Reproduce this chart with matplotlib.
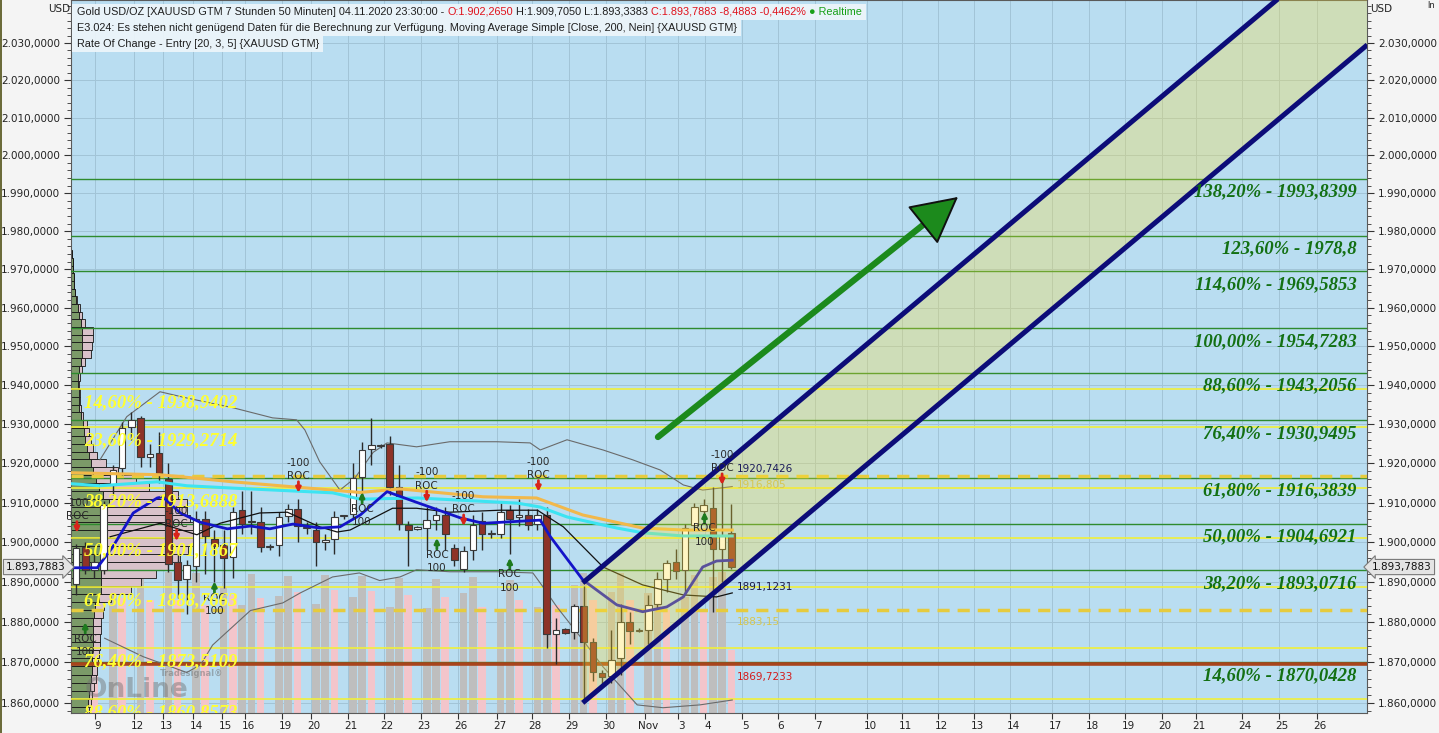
import numpy as np
import matplotlib
matplotlib.use("Agg")
import matplotlib.pyplot as plt
from matplotlib.ticker import FixedLocator, FuncFormatter, NullFormatter
from matplotlib.transforms import blended_transform_factory, ScaledTranslation
from matplotlib.patches import Rectangle

# ---------------- data ----------------
# 7h50m candles, index 0 = first visible bar (9. Okt)
opens = [1889.5, 1898.7, 1893.0, 1893.0, 1914.5, 1918.7, 1929.2, 1931.5, 1921.6, 1922.5,
         1916.0, 1895.0, 1890.7, 1894.0, 1906.0, 1900.8, 1899.2, 1896.3, 1908.2, 1905.0,
         1905.2, 1898.8, 1899.2, 1906.7, 1908.4, 1903.5, 1903.0, 1900.1, 1900.8, 1906.6,
         1907.1, 1916.5, 1923.7, 1924.3, 1925.0, 1914.0, 1904.3, 1903.4, 1903.5, 1905.6,
         1907.0, 1898.5, 1893.2, 1898.0, 1905.5, 1902.0, 1902.0, 1908.2, 1906.3, 1907.0,
         1904.6, 1907.0, 1877.0, 1878.2, 1877.5, 1884.0, 1875.0, 1867.3, 1866.6, 1871.0,
         1880.0, 1877.8, 1878.0, 1884.5, 1890.7, 1895.0, 1893.0, 1904.3, 1908.0, 1908.7,
         1898.3, 1902.265]
highs = [1899.5, 1900.0, 1897.0, 1910.5, 1919.5, 1930.5, 1933.0, 1932.0, 1925.0, 1928.0,
         1920.0, 1898.0, 1895.5, 1908.0, 1908.0, 1903.0, 1903.0, 1909.0, 1913.0, 1913.0,
         1909.0, 1899.5, 1907.6, 1909.8, 1911.0, 1905.0, 1905.0, 1902.0, 1908.0, 1907.0,
         1920.0, 1925.5, 1931.6, 1925.0, 1927.0, 1919.5, 1905.5, 1904.0, 1909.0, 1909.0,
         1909.0, 1899.5, 1899.0, 1907.0, 1907.6, 1903.0, 1910.0, 1909.5, 1911.0, 1908.5,
         1908.5, 1909.0, 1881.0, 1878.5, 1884.5, 1889.0, 1876.0, 1868.0, 1878.0, 1884.5,
         1882.5, 1878.5, 1886.8, 1892.5, 1895.6, 1898.2, 1904.5, 1910.0, 1911.0, 1914.0,
         1917.0, 1909.705]
lows = [1886.7, 1892.0, 1891.0, 1892.0, 1912.0, 1917.0, 1926.0, 1919.0, 1919.0, 1915.0,
        1892.5, 1886.0, 1882.0, 1890.0, 1892.0, 1890.0, 1888.5, 1891.0, 1902.0, 1902.0,
        1897.5, 1898.0, 1896.5, 1905.0, 1900.0, 1902.0, 1894.0, 1898.0, 1897.0, 1906.0,
        1906.0, 1912.0, 1919.5, 1924.0, 1912.0, 1903.0, 1894.0, 1903.0, 1898.0, 1903.0,
        1898.0, 1894.0, 1892.5, 1895.6, 1898.0, 1901.0, 1901.0, 1897.0, 1904.0, 1903.0,
        1903.0, 1873.5, 1869.5, 1877.0, 1875.7, 1860.7, 1865.3, 1864.5, 1864.8, 1867.0,
        1874.5, 1877.5, 1874.5, 1883.3, 1887.5, 1890.7, 1886.8, 1903.0, 1906.0, 1882.5,
        1890.0, 1893.338]
closes = [1898.6, 1893.0, 1895.0, 1909.5, 1918.3, 1929.0, 1931.0, 1921.5, 1922.4, 1917.6,
          1894.5, 1890.5, 1894.2, 1906.0, 1901.5, 1899.0, 1896.0, 1907.6, 1904.6, 1905.1,
          1898.7, 1898.9, 1906.4, 1908.4, 1904.0, 1903.8, 1900.0, 1900.6, 1906.4, 1906.8,
          1916.3, 1923.5, 1924.7, 1924.4, 1914.0, 1904.5, 1903.2, 1903.6, 1905.6, 1907.0,
          1902.0, 1895.6, 1897.7, 1904.3, 1902.0, 1902.2, 1907.6, 1906.0, 1907.0, 1904.3,
          1907.0, 1877.0, 1878.0, 1877.4, 1884.0, 1875.0, 1867.5, 1866.3, 1870.7, 1880.0,
          1877.8, 1878.0, 1884.2, 1890.7, 1894.7, 1892.8, 1903.7, 1908.8, 1909.5, 1898.3,
          1901.5, 1893.788]
volume = [135, 123, 113, 0, 140, 115, 0, 138, 113, 0, 141, 113, 0, 140, 108, 0, 126, 118,
          108, 139, 115, 0, 117, 137, 121, 0, 109, 138, 123, 0, 116, 137, 122, 0, 106, 135,
          118, 0, 105, 134, 116, 0, 120, 136, 106, 0, 103, 133, 113, 0, 106, 141, 108, 0,
          128, 140, 113, 0, 121, 140, 113, 0, 120, 131, 103, 0, 116, 138, 103, 136, 141, 63]
pink_bars = [2, 5, 8, 11, 14, 17, 20, 24, 28, 32, 36, 40, 44, 48, 52, 56, 60, 64, 68, 71]
VOL_MAX = 713

# volume profile (left edge), 2 USD rows
profile_levels = list(range(1858, 1976, 2))
profile_buy = [16, 17, 18, 19, 20, 21, 21, 21, 22, 22, 22, 22, 23, 24, 28, 30, 30, 30, 32, 34,
               35, 36, 36, 34, 34, 36, 38, 32, 28, 25, 22, 20, 18, 16, 14, 13, 12, 10, 8, 8,
               8, 7, 7, 8, 10, 11, 11, 11, 11, 10, 8, 7, 5, 4, 3, 3, 2, 2, 1]
profile_sell = [2, 3, 3, 4, 5, 5, 6, 7, 7, 7, 8, 8, 9, 9, 12, 30, 40, 55, 65, 75,
                82, 88, 95, 90, 85, 80, 78, 75, 50, 40, 25, 15, 8, 6, 6, 5, 4, 2, 2, 1,
                1, 1, 2, 3, 4, 9, 10, 11, 11, 4, 3, 2, 1, 0, 0, 0, 0, 0, 0]
PROF_MAX = 1296

# indicator lines (bar index, price)
cyan_x = [-0.4, 2.6, 8.8, 12.0, 17.0, 27.8, 30.8, 37.0, 47.8, 50.3, 53.2, 58.6, 61.4, 65.8, 71.1]
cyan_y = [1914.8, 1914.3, 1915.3, 1914.3, 1913.7, 1912.5, 1910.9, 1911.2, 1909.9, 1908.9,
          1906.4, 1903.6, 1902.4, 1901.6, 1901.6]
gold_x = [-0.4, 9.1, 17.0, 30.8, 35.1, 44.1, 49.9, 54.9, 61.4, 65.8, 71.1]
gold_y = [1917.6, 1917.1, 1915.3, 1912.6, 1913.5, 1911.5, 1911.2, 1906.9, 1903.6, 1903.1, 1903.1]
blue_x = [-0.4, 2.3, 4.0, 6.2, 8.8, 9.4, 11.3, 13.4, 16.4, 18.9, 21.0, 23.5, 26.4, 28.6, 30.8,
          33.7, 36.9, 41.6, 44.1, 50.3, 51.4, 54.9, 58.6, 61.4, 64.0, 65.8, 67.9, 69.4, 71.1]
blue_y = [1893.6, 1893.6, 1898.9, 1907.4, 1911.2, 1911.5, 1907.4, 1905.1, 1903.4, 1904.1,
          1903.4, 1904.6, 1903.6, 1903.9, 1906.9, 1912.8, 1910.1, 1906.2, 1904.8, 1905.6,
          1901.4, 1890.6, 1884.3, 1882.6, 1883.8, 1886.3, 1893.8, 1895.3, 1895.5]
black_x = [3.7, 9.1, 13.1, 15.6, 19.9, 22.9, 26.4, 28.3, 29.7, 34.3, 36.9, 40.5, 45.9, 50.0,
           52.8, 57.1, 61.4, 65.8, 69.4, 71.1]
black_y = [1901.4, 1904.8, 1901.9, 1904.8, 1907.4, 1907.6, 1903.9, 1902.6, 1903.1, 1908.6,
           1908.6, 1907.6, 1908.1, 1908.1, 1903.9, 1893.8, 1889.3, 1886.8, 1886.3, 1887.3]
band_up_x = [2.6, 5.5, 9.1, 12.0, 17.0, 21.3, 23.9, 24.8, 26.4, 28.6, 30.2, 32.2, 33.7, 36.9,
             40.5, 45.6, 49.2, 50.3, 53.2, 57.1, 60.3, 63.3, 65.8, 67.9, 70.1, 71.1]
band_up_y = [1920.9, 1931.9, 1938.3, 1936.7, 1934.2, 1931.6, 1931.1, 1928.5, 1920.4, 1913.2,
             1916.2, 1922.8, 1925.2, 1924.2, 1925.5, 1925.5, 1925.2, 1923.4, 1926.0, 1923.4,
             1920.9, 1918.3, 1914.5, 1913.2, 1913.8, 1914.1]
band_lo_x = [3.1, 7.3, 12.0, 13.5, 14.8, 18.9, 22.4, 24.3, 27.8, 30.7, 32.9, 35.1, 36.9, 40.5,
             45.6, 49.5, 50.6, 52.1, 54.9, 57.1, 60.8, 63.6, 67.6, 71.1]
band_lo_y = [1876.0, 1871.4, 1867.5, 1869.4, 1874.3, 1882.9, 1884.8, 1887.3, 1891.3, 1892.3,
             1890.4, 1891.3, 1893.1, 1892.6, 1892.6, 1892.3, 1888.8, 1883.8, 1875.6, 1868.9,
             1859.5, 1858.8, 1859.5, 1860.7]

# fibonacci projections
fib_right_labels = ['138,20% - 1993,8399', '123,60% - 1978,8', '114,60% - 1969,5853',
                    '100,00% - 1954,7283', '88,60% - 1943,2056', '76,40% - 1930,9495',
                    '61,80% - 1916,3839', '50,00% - 1904,6921', '38,20% - 1893,0716',
                    '14,60% - 1870,0428']
fib_right_values = [1993.8399, 1978.8, 1969.5853, 1954.7283, 1943.2056, 1930.9495,
                    1916.3839, 1904.6921, 1893.0716, 1870.0428]
fib_left_labels = ['14,60% - 1938,9402', '23,60% - 1929,2714', '38,20% - 1913,6888',
                   '50,00% - 1901,1867', '61,80% - 1888,7663', '76,40% - 1873,5109',
                   '88,60% - 1860,8573']
fib_left_values = [1938.9402, 1929.2714, 1913.6888, 1901.1867, 1888.7663, 1873.5109, 1860.8573]
dashed_levels = [1916.805, 1883.15]
support_level = 1869.7233

# trend channel and arrow
channel_x = [54.9, 139.9]
channel_upper = [1889.8, 2062.3]
channel_lower = [1860.0, 2029.5]
arrow_x = [63.05, 95.56]
arrow_y = [1926.7, 1989.0]

# ROC signals (bar index, price)
roc_down = [(0.1, 1902.4), (10.9, 1900.3), (24.1, 1912.5), (38.0, 1910.1), (42.0, 1904.1),
            (50.1, 1912.8), (70.0, 1914.5)]
roc_up = [(1.0, 1880.0), (15.0, 1890.2), (31.0, 1912.7), (39.1, 1901.1), (47.0, 1896.1),
          (68.1, 1907.7)]

# value labels at the last bar
end_labels = [('1920,7426', 1918.6, '#1A1A5A'), ('1916,805', 1914.5, '#D6C650'),
              ('1891,1231', 1888.8, '#1A1A4A'), ('1883,15', 1880.0, '#D6C650'),
              ('1869,7233', 1866.5, '#D41A1A')]

day_ticks = [2.06, 6.28, 9.43, 12.68, 15.82, 18.31, 22.32, 25.46, 29.47, 33.37, 37.38, 41.39,
             45.61, 49.41, 53.41, 57.42, 61.65, 65.22, 68.15, 72.16, 76.06, 80.07, 85.70,
             89.49, 93.39, 97.29, 101.19, 105.74, 109.75, 113.65, 117.66, 121.34, 126.33,
             130.34, 134.45]
day_labels = ['9', '12', '13', '14', '15', '16', '19', '20', '21', '22', '23', '26', '27', '28',
              '29', '30', 'Nov', '3', '4', '5', '6', '7', '10', '11', '12', '13', '14', '17',
              '18', '19', '20', '21', '24', '25', '26']
price_ticks = list(range(1860, 2031, 10))
price_minor = list(range(1858, 2041, 2))
last_close = 1893.7883

# ---------------- figure ----------------
W, H = 1439, 733
BG = '#B9DDF1'
plt.rcParams['font.family'] = ['DejaVu Sans']
fig = plt.figure(figsize=(W / 100, H / 100), dpi=100, facecolor='#F4F4F4')
ax = fig.add_axes([71 / W, 20 / H, 1296 / W, 713 / H], facecolor=BG)
ax.set_yscale('log')

data_x_axes_y = blended_transform_factory(ax.transData, ax.transAxes)
axes_x_data_y = blended_transform_factory(ax.transAxes, ax.transData)


def de_fmt(v, pos=None):
    s = '{:,.4f}'.format(v)
    return s.replace(',', '#').replace('.', ',').replace('#', '.')


# volume bars along the bottom
idx = np.arange(len(opens))
vol_colors = ['#F3C5CB' if i in pink_bars else '#BEBEBE' for i in idx]
ax.bar(idx, np.array(volume) / VOL_MAX, width=0.82, color=vol_colors, lw=0,
       transform=data_x_axes_y, zorder=1)

# volume profile on the left
buy = np.array(profile_buy) / PROF_MAX
sell = np.array(profile_sell) / PROF_MAX
ax.barh(profile_levels, buy, height=2, left=0, color='#7B9A68', edgecolor='#151515', lw=0.6,
        transform=axes_x_data_y, zorder=2)
ax.barh(profile_levels, sell, height=2, left=buy, color='#D9C2CA', edgecolor='#151515', lw=0.6,
        transform=axes_x_data_y, zorder=2)

# horizontal levels
for v in fib_right_values:
    ax.axhline(v, color='#2E8B2E', lw=1, zorder=3)
for v in fib_left_values:
    ax.axhline(v, color='#F0F03A', lw=1.2, zorder=3)
for v in dashed_levels:
    ax.axhline(v, color='#E6CB3E', lw=2.5, dashes=(3.5, 2.3), zorder=3)
ax.axhline(support_level, color='#A8441C', lw=2.6, zorder=3)

# bands
ax.plot(band_up_x, band_up_y, color='#6A6A6A', lw=0.8, zorder=3.5)
ax.plot(band_lo_x, band_lo_y, color='#6A6A6A', lw=0.8, zorder=3.5)

# candles
o, h, l, c = map(np.array, (opens, highs, lows, closes))
up = c >= o
ax.vlines(idx, l, h, color='#2A2A2A', lw=1, zorder=4)
body_lo = np.minimum(o, c)
body_h = np.maximum(np.abs(c - o), 0.35)
ax.bar(idx, body_h, bottom=body_lo, width=0.72,
       color=['#FFFFFF' if u else '#8E3328' for u in up],
       edgecolor='#3A3A3A', lw=0.8, zorder=5)

# moving averages
ax.plot(gold_x, gold_y, color='#F2B84A', lw=2.2, zorder=5.5)
ax.plot(cyan_x, cyan_y, color='#3DE4F2', lw=2.2, zorder=5.6)
ax.plot(black_x, black_y, color='#111111', lw=0.9, zorder=5.7)
ax.plot(blue_x, blue_y, color='#1414C8', lw=2, zorder=5.8)

# channel fill and borders
ax.fill_between(channel_x, channel_lower, channel_upper, color=(1.0, 0.88, 0.21), alpha=0.3,
                lw=0, zorder=6)
ax.plot(channel_x, channel_upper, color='#0C0C78', lw=3.6, zorder=8, solid_capstyle='butt')
ax.plot(channel_x, channel_lower, color='#0C0C78', lw=3.6, zorder=8, solid_capstyle='butt')

# big trend arrow
ax.annotate('', xy=(arrow_x[1], arrow_y[1]), xytext=(arrow_x[0], arrow_y[0]),
            arrowprops=dict(arrowstyle='-', color='#1C8A1C', lw=4.5, shrinkA=0, shrinkB=14),
            zorder=9)
ax.annotate('', xy=(arrow_x[1], arrow_y[1]), xytext=(-25, -20), textcoords='offset pixels',
            arrowprops=dict(arrowstyle='-|>,head_length=0.8,head_width=0.42', mutation_scale=38,
                            fc='#1C8A1C', ec='#111111', lw=1.4, shrinkA=0, shrinkB=0),
            zorder=9)

# ROC signals
for x, y in roc_down:
    ax.annotate('', xy=(x, y), xytext=(0, 8), textcoords='offset points',
                arrowprops=dict(arrowstyle='-|>', color='#D8241A', lw=2, mutation_scale=7,
                                shrinkA=0, shrinkB=0), zorder=9)
    ax.annotate('ROC', (x, y), xytext=(0, 12), textcoords='offset points', ha='center',
                va='center', fontsize=7.5, color='#2A2A2A', zorder=9)
    ax.annotate('-100', (x, y), xytext=(0, 21.5), textcoords='offset points', ha='center',
                va='center', fontsize=7.5, color='#2A2A2A', zorder=9)
for x, y in roc_up:
    ax.annotate('', xy=(x, y), xytext=(0, -8), textcoords='offset points',
                arrowprops=dict(arrowstyle='-|>', color='#1E7A1E', lw=2, mutation_scale=7,
                                shrinkA=0, shrinkB=0), zorder=9)
    ax.annotate('ROC', (x, y), xytext=(0, -12), textcoords='offset points', ha='center',
                va='center', fontsize=7.5, color='#2A2A2A', zorder=9)
    ax.annotate('100', (x, y), xytext=(0, -21.5), textcoords='offset points', ha='center',
                va='center', fontsize=7.5, color='#2A2A2A', zorder=9)

# fib labels
fib_font = dict(family=['Liberation Serif', 'DejaVu Serif'], weight='bold', style='italic',
                fontsize=13.5)
shift = ScaledTranslation(0, -0.05, fig.dpi_scale_trans)
for txt, v in zip(fib_right_labels, fib_right_values):
    ax.text(0.992, v, txt, transform=axes_x_data_y + shift, ha='right', va='top',
            color='#137013', zorder=10, **fib_font)
for txt, v in zip(fib_left_labels, fib_left_values):
    ax.text(0.010, v, txt, transform=axes_x_data_y + shift, ha='left', va='top',
            color='#FFFF30', zorder=10, clip_on=True, **fib_font)

for txt, v, col in end_labels:
    ax.text(71.6, v, txt, ha='left', va='center', fontsize=7.5, color=col, zorder=10)

# watermark
fig.text(85 / W, 1 - 690 / H, 'OnLine', fontsize=19, weight='bold', color='#6E6E6E',
         alpha=0.45, va='center')
fig.text(160 / W, 1 - 674 / H, 'Tradesignal\u00ae', fontsize=6, weight='bold',
         color='#6E6E6E', alpha=0.5, va='center')

# axes formatting
ax.set_xlim(-0.54, 139.87)
ax.set_ylim(1857.5, 2041.6)
ax.set_xticks(day_ticks)
ax.set_xticklabels(day_labels)
ax.yaxis.set_major_locator(FixedLocator(price_ticks))
ax.yaxis.set_minor_locator(FixedLocator(price_minor))
ax.yaxis.set_major_formatter(FuncFormatter(de_fmt))
ax.yaxis.set_minor_formatter(NullFormatter())
ax.grid(True, which='major', color='#A2C4D7', lw=0.7)
ax.set_axisbelow(True)
ax.tick_params(axis='both', which='both', direction='out', colors='#333333', labelsize=7.5,
               labelcolor='#222222')
ax.tick_params(axis='y', which='major', length=5, left=True, right=True, labelleft=True,
               labelright=True, pad=3)
ax.tick_params(axis='y', which='minor', length=3, left=True, right=True)
ax.tick_params(axis='x', which='major', length=4, pad=2)
for lbl in ax.get_xticklabels():
    lbl.set_transform(lbl.get_transform() + ScaledTranslation(0.03, 0, fig.dpi_scale_trans))
for sp in ax.spines.values():
    sp.set_color('#5A5A5A')

# last price tags
tag = dict(fc='#E4E4E4', ec='#7A7A7A', lw=0.8)
ax.text(-0.004, last_close, de_fmt(last_close), transform=axes_x_data_y, ha='right',
        va='center', fontsize=7.5, color='#111111', zorder=11, clip_on=False,
        bbox=dict(boxstyle='rarrow,pad=0.25', **tag))
ax.text(1.004, last_close, de_fmt(last_close), transform=axes_x_data_y, ha='left',
        va='center', fontsize=7.5, color='#111111', zorder=11, clip_on=False,
        bbox=dict(boxstyle='larrow,pad=0.25', **tag))

fig.text(48 / W, 1 - 9 / H, 'USD', fontsize=7.5, color='#222222', va='center')
fig.text(1370 / W, 1 - 9 / H, 'USD', fontsize=7.5, color='#222222', va='center')
fig.text(1427 / W, 1 - 6 / H, 'ln', fontsize=6, color='#222222', va='center')
fig.add_artist(Rectangle((0, 0), 2 / W, 1, transform=fig.transFigure, color='#6B6B3A', lw=0))

# header lines
renderer = fig.canvas.get_renderer()


def header_line(y, parts, size=7.8):
    x = 77
    for s, col in parts:
        t = fig.text(x / W, 1 - y / H, s, color=col, fontsize=size, va='center', ha='left',
                     family=['Liberation Sans', 'DejaVu Sans'], zorder=5)
        x = t.get_window_extent(renderer).x1
    fig.add_artist(Rectangle((72 / W, 1 - (y + 8) / H), (x + 4 - 72) / W, 16 / H,
                             transform=fig.transFigure, fc='#EEF6FA', ec='none', alpha=0.92,
                             zorder=4))


header_line(12, [('Gold USD/OZ [XAUUSD GTM 7 Stunden 50 Minuten] 04.11.2020 23:30:00 - ', '#1E1E1E'),
                 ('O:1.902,2650', '#E0101A'),
                 (' H:1.909,7050 L:1.893,3383 ', '#1E1E1E'),
                 ('C:1.893,7883 -8,4883 -0,4462%', '#E0101A'),
                 (' \u25cf Realtime', '#18A018')])
header_line(28, [('E3.024: Es stehen nicht genügend Daten für die Berechnung zur Verfügung. '
                  'Moving Average Simple [Close, 200, Nein] {XAUUSD GTM}', '#1E1E1E')])
header_line(44, [('Rate Of Change - Entry [20, 3, 5] {XAUUSD GTM}', '#1E1E1E')])

fig.savefig('out.png', dpi=100, facecolor=fig.get_facecolor())
